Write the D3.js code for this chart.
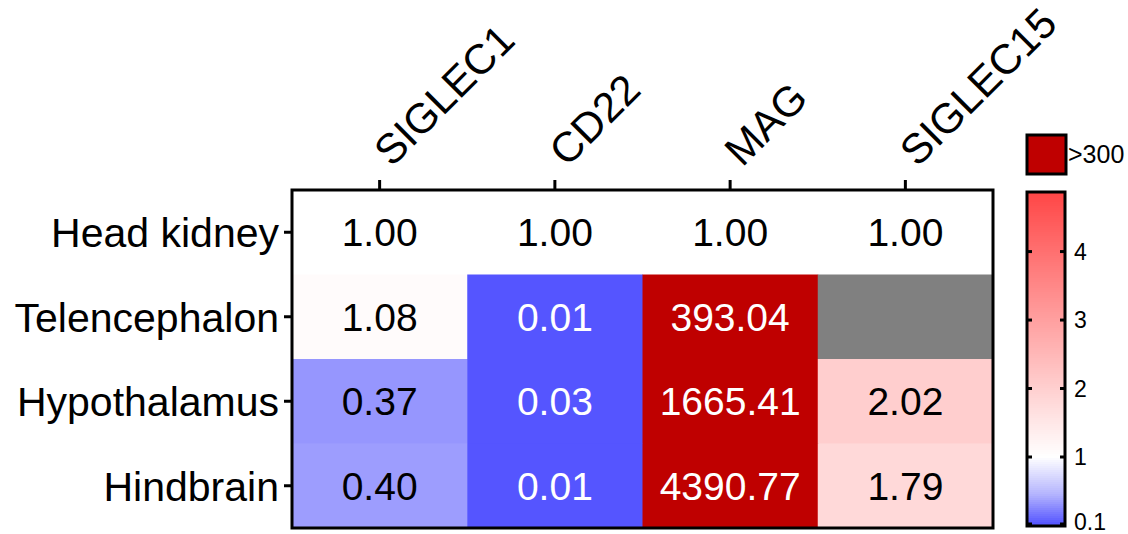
<!DOCTYPE html>
<html>
<head>
<meta charset="utf-8">
<script src="https://cdn.jsdelivr.net/npm/d3@7"></script>
<style>
  body { margin: 0; background: #fff; }
  text { font-family: "Liberation Sans", Arial, sans-serif; }
</style>
</head>
<body>
<script>
// categories
var genes = ["SIGLEC1", "CD22", "MAG", "SIGLEC15"];
var tissues = ["Head kidney", "Telencephalon", "Hypothalamus", "Hindbrain"];

// fold-change values, one array per tissue (null = no data)
var headKidney = [1.00, 1.00, 1.00, 1.00];
var telencephalon = [1.08, 0.01, 393.04, null];
var hypothalamus = [0.37, 0.03, 1665.41, 2.02];
var hindbrain = [0.40, 0.01, 4390.77, 1.79];

// legend ticks
var legendTicks = [0.1, 1, 2, 3, 4];
var overLabel = ">300";

var svgWidth = 1128;
var svgHeight = 534;
var margin = { top: 190, right: 135, bottom: 6, left: 292 };
var width = svgWidth - margin.left - margin.right;
var height = svgHeight - margin.top - margin.bottom;

var svg = d3.select("body")
  .append("svg")
  .attr("width", svgWidth)
  .attr("height", svgHeight);

var chartGroup = svg.append("g")
  .attr("transform", `translate(${margin.left}, ${margin.top})`);

var rowsData = [headKidney, telencephalon, hypothalamus, hindbrain];
var cells = [];
rowsData.forEach(function(row, i) {
  row.forEach(function(v, j) {
    cells.push({ tissue: tissues[i], gene: genes[j], value: v });
  });
});

var xScale = d3.scaleBand().domain(genes).range([0, width]);
var yScale = d3.scaleBand().domain(tissues).range([0, height]);

// colour: blue below 1, white at 1, red above; dark red when > 300
var colorScale = d3.scaleLinear()
  .domain([0.1, 0.5, 1, 5])
  .range(["#5555ff", "#b5b5fe", "#ffffff", "#ff4040"])
  .clamp(true);

function cellColor(v) {
  if (v === null) return "#808080";
  if (v > 300) return "#bf0000";
  return colorScale(v);
}
function textColor(v) {
  if (v === null) return "none";
  if (v > 300 || v < 0.1) return "#ffffff";
  return "#000000";
}

chartGroup.selectAll(".cell")
  .data(cells)
  .enter()
  .append("rect")
  .attr("class", "cell")
  .attr("x", d => xScale(d.gene))
  .attr("y", d => yScale(d.tissue))
  .attr("width", xScale.bandwidth() + 0.5)
  .attr("height", yScale.bandwidth() + 0.5)
  .attr("fill", d => cellColor(d.value));

chartGroup.selectAll(".cellText")
  .data(cells.filter(d => d.value !== null))
  .enter()
  .append("text")
  .attr("class", "cellText")
  .attr("x", d => xScale(d.gene) + xScale.bandwidth() / 2)
  .attr("y", d => yScale(d.tissue) + yScale.bandwidth() / 2)
  .attr("dy", "0.36em")
  .attr("text-anchor", "middle")
  .attr("font-size", "39px")
  .attr("fill", d => textColor(d.value))
  .text(d => d.value.toFixed(2));

// frame
chartGroup.append("rect")
  .attr("width", width)
  .attr("height", height)
  .attr("fill", "none")
  .attr("stroke", "#000")
  .attr("stroke-width", 3);

// axes
var topAxis = d3.axisTop(xScale).tickSize(10).tickFormat("");
var leftAxis = d3.axisLeft(yScale).tickSize(8).tickFormat("");

var xAxisG = chartGroup.append("g").call(topAxis);
xAxisG.select(".domain").remove();
xAxisG.selectAll("line").attr("stroke-width", 3);

var yAxisG = chartGroup.append("g").call(leftAxis);
yAxisG.select(".domain").remove();
yAxisG.selectAll("line").attr("stroke-width", 3);

// column labels (rotated)
chartGroup.selectAll(".colLabel")
  .data(genes)
  .enter()
  .append("text")
  .attr("class", "colLabel")
  .attr("transform", d => `translate(${xScale(d) + xScale.bandwidth() / 2 + 12}, -22) rotate(-45)`)
  .attr("font-size", "42px")
  .attr("fill", "#000")
  .text(d => d);

// row labels
chartGroup.selectAll(".rowLabel")
  .data(tissues)
  .enter()
  .append("text")
  .attr("class", "rowLabel")
  .attr("x", -13)
  .attr("y", d => yScale(d) + yScale.bandwidth() / 2)
  .attr("dy", "0.36em")
  .attr("text-anchor", "end")
  .attr("font-size", "41px")
  .attr("fill", "#000")
  .text(d => d);

// legend
var legendX = 1027;
var legendW = 38;
var legendScale = d3.scaleLinear()
  .domain([0.1, 1, 4.87])
  .range([524, 457, 192]);

var legendG = svg.append("g");
var steps = d3.range(192, 526, 2);
legendG.selectAll(".band")
  .data(steps)
  .enter()
  .append("rect")
  .attr("x", legendX)
  .attr("y", d => d)
  .attr("width", legendW)
  .attr("height", 2.5)
  .attr("fill", d => colorScale(legendScale.invert(d + 1)));

legendG.append("rect")
  .attr("x", legendX)
  .attr("y", 192)
  .attr("width", legendW)
  .attr("height", 334)
  .attr("fill", "none")
  .attr("stroke", "#000")
  .attr("stroke-width", 3);

legendTicks.forEach(function(t) {
  var y = legendScale(t);
  legendG.append("line")
    .attr("x1", legendX).attr("x2", legendX + 5)
    .attr("y1", y).attr("y2", y)
    .attr("stroke", "#000").attr("stroke-width", 3);
  legendG.append("line")
    .attr("x1", legendX + legendW - 5).attr("x2", legendX + legendW)
    .attr("y1", y).attr("y2", y)
    .attr("stroke", "#000").attr("stroke-width", 3);
  legendG.append("text")
    .attr("x", legendX + legendW + 9)
    .attr("y", t === 0.1 ? y - 2 : y)
    .attr("dy", "0.36em")
    .attr("font-size", "23px")
    .attr("fill", "#000")
    .text(t);
});

legendG.append("rect")
  .attr("x", legendX)
  .attr("y", 135)
  .attr("width", 39)
  .attr("height", 39)
  .attr("fill", "#bf0000")
  .attr("stroke", "#000")
  .attr("stroke-width", 3);

legendG.append("text")
  .attr("x", legendX + 41)
  .attr("y", 154)
  .attr("dy", "0.36em")
  .attr("font-size", "25px")
  .attr("fill", "#000")
  .text(overLabel);
</script>
</body>
</html>
